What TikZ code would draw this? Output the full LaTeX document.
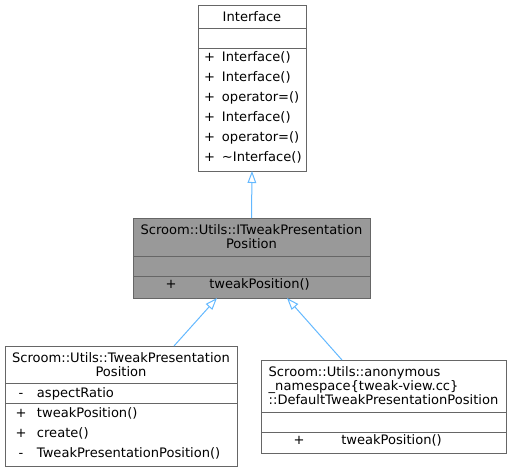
\documentclass[tikz,border=0pt]{standalone}
\usepackage{fontspec}
\setmainfont{DejaVu Sans}
\usepackage{xcolor}
\usepackage{tikz}
\usetikzlibrary{positioning, arrows.meta}

\definecolor{boxline}{HTML}{666666}
\definecolor{boxfill}{HTML}{999999}
\definecolor{edgeblue}{HTML}{63B8FF}
\newcommand{\upx}{0.75pt}

\begin{document}
\begin{tikzpicture}[x=0.75pt,y=-0.75pt,font=\fontsize{9.8}{10.5}\selectfont,
    part/.style={draw=boxline,line width=0.75pt,fill=white,inner sep=0pt,outer sep=0pt},
    head/.style={part,anchor=north west,align=center},
    sign/.style={inner sep=0pt,text height=0.76em,text depth=0.13em},
    memb/.style={sign,anchor=west},
    inh/.style={edgeblue,line width=0.75pt,-{Triangle[open,length=9pt,width=6.5pt]}}]
    \useasboundingbox (0,0) rectangle (512,472);

    % Interface
    \node[head,minimum width=108*\upx,minimum height=23*\upx] (iface-t) at (198,5) {Interface};
    \node[part,minimum width=108*\upx,minimum height=20*\upx,below=0pt of iface-t] (iface-a) {};
    \node[part,minimum width=108*\upx,minimum height=123*\upx,below=0pt of iface-a] (iface-o) {};
    \node[sign] (iface-s1) at (209.5,57) {+};
    \node[memb] (iface-m1) at (221.7,57) {Interface()};
    \node[sign] (iface-s2) at (209.5,77) {+};
    \node[memb] (iface-m2) at (221.7,77) {Interface()};
    \node[sign] (iface-s3) at (209.5,97) {+};
    \node[memb] (iface-m3) at (221.7,97) {operator=()};
    \node[sign] (iface-s4) at (209.5,117) {+};
    \node[memb] (iface-m4) at (221.7,117) {Interface()};
    \node[sign] (iface-s5) at (209.5,137) {+};
    \node[memb] (iface-m5) at (221.7,137) {operator=()};
    \node[sign] (iface-s6) at (209.5,157) {+};
    \node[memb] (iface-m6) at (221.7,157) {\textasciitilde Interface()};

    % ITweakPresentationPosition
    \node[head,fill=boxfill,minimum width=237*\upx,minimum height=38*\upx] (itw-t) at (133,218)
        {Scroom::Utils::ITweakPresentation\\Position};
    \node[part,fill=boxfill,minimum width=237*\upx,minimum height=20*\upx,below=0pt of itw-t] (itw-a) {};
    \node[part,fill=boxfill,minimum width=237*\upx,minimum height=22*\upx,below=0pt of itw-a] (itw-o) {};
    \node[sign] (itw-s1) at (171,284) {+};
    \node[memb] (itw-m1) at (209,284) {tweakPosition()};

    % TweakPresentationPosition
    \node[head,minimum width=232*\upx,minimum height=37*\upx] (lft-t) at (5,346)
        {Scroom::Utils::TweakPresentation\\Position};
    \node[part,minimum width=232*\upx,minimum height=20*\upx,below=0pt of lft-t] (lft-a) {};
    \node[part,minimum width=232*\upx,minimum height=63*\upx,below=0pt of lft-a] (lft-o) {};
    \node[sign] (lft-s1) at (21,393) {-};
    \node[memb] (lft-m1) at (36.7,393) {aspectRatio};
    \node[sign] (lft-s2) at (21,413) {+};
    \node[memb] (lft-m2) at (36.7,413) {tweakPosition()};
    \node[sign] (lft-s3) at (21,433) {+};
    \node[memb] (lft-m3) at (36.7,433) {create()};
    \node[sign] (lft-s4) at (21,453) {-};
    \node[memb] (lft-m4) at (36.7,453) {TweakPresentationPosition()};

    % DefaultTweakPresentationPosition
    \node[head,align=left,minimum width=245*\upx,minimum height=52*\upx] (rgt-t) at (261,360)
        {Scroom::Utils::anonymous\\\_namespace\{tweak-view.cc\}\\::DefaultTweakPresentationPosition};
    \node[part,minimum width=245*\upx,minimum height=20*\upx,below=0pt of rgt-t] (rgt-a) {};
    \node[part,minimum width=245*\upx,minimum height=21*\upx,below=0pt of rgt-a] (rgt-o) {};
    \node[sign] (rgt-s1) at (299,440) {+};
    \node[memb] (rgt-m1) at (341,440) {tweakPosition()};

    % inheritance
    \draw[inh] (itw-t.north) -- (iface-o.south);
    \draw[inh] ([xshift=53*\upx]lft-t.north) -- ([xshift=-34.5*\upx]itw-o.south);
    \draw[inh] ([xshift=-41.5*\upx]rgt-t.north) -- ([xshift=35.5*\upx]itw-o.south);
\end{tikzpicture}
\end{document}
